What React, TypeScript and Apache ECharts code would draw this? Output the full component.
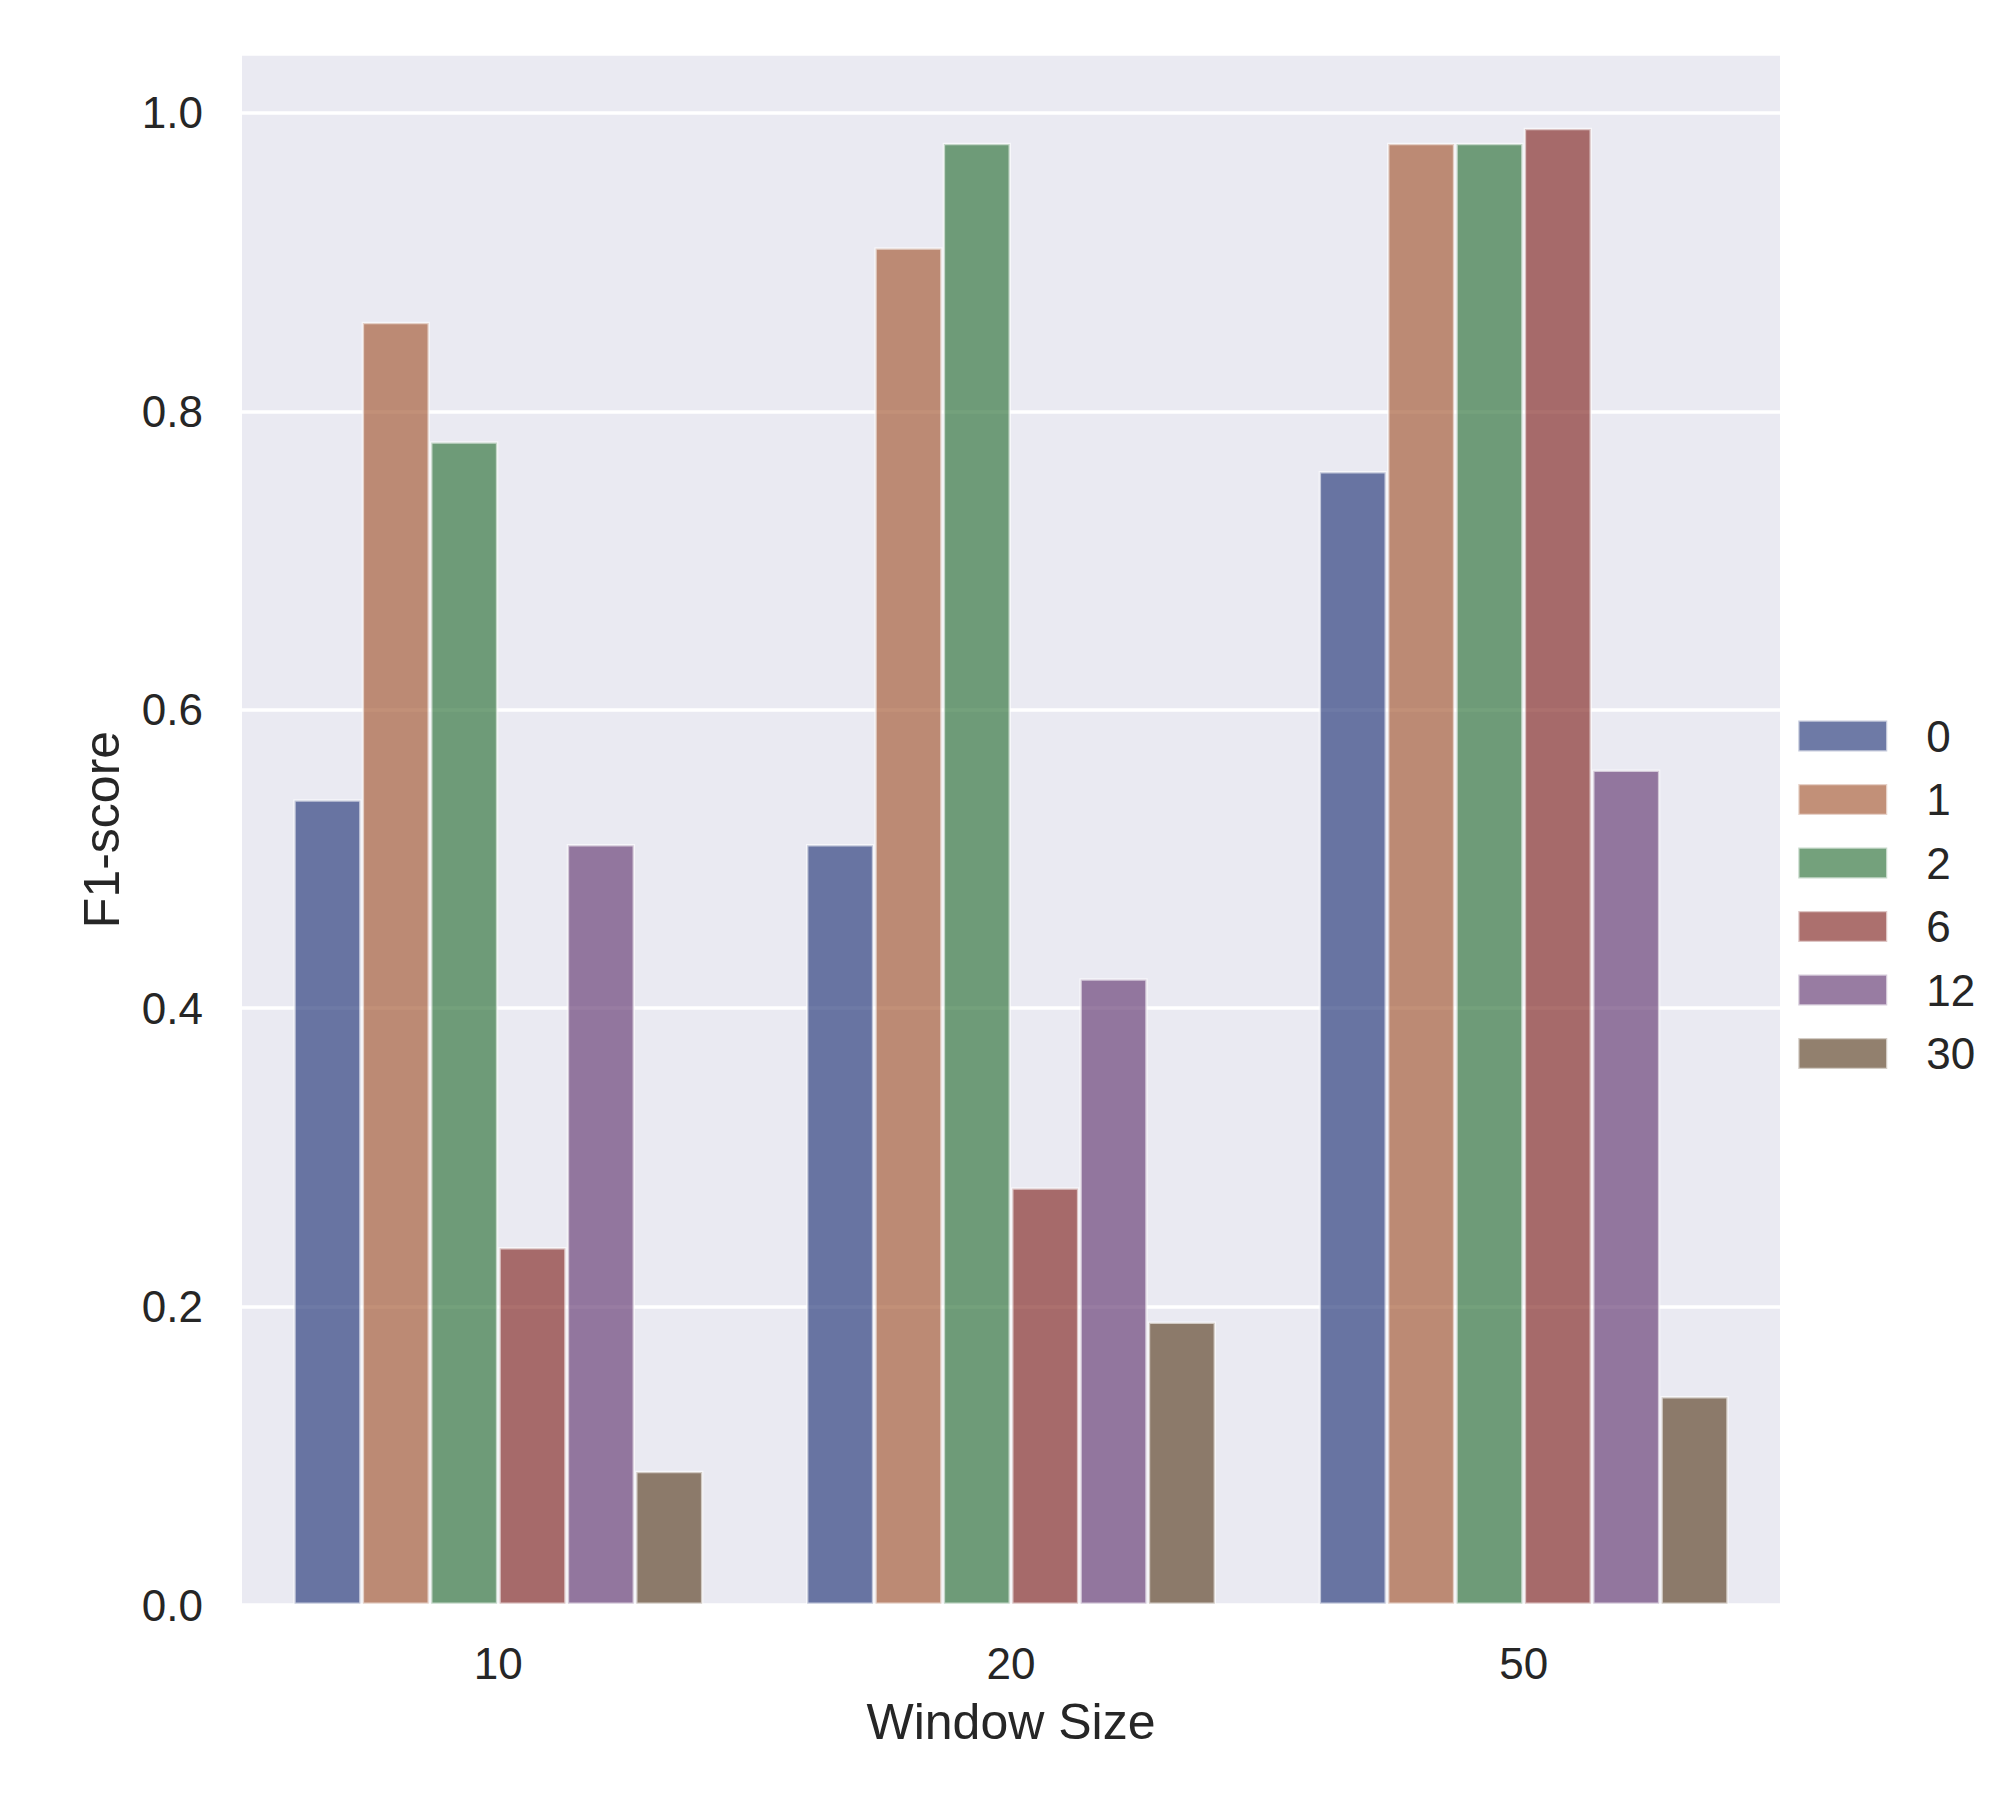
import React, { useEffect, useRef } from "react";
import * as echarts from "echarts";

const categories = ["10", "20", "50"];
const seriesNames = ["0", "1", "2", "6", "12", "30"];
const values0 = [0.54, 0.51, 0.76];
const values1 = [0.86, 0.91, 0.98];
const values2 = [0.78, 0.98, 0.98];
const values6 = [0.24, 0.28, 0.99];
const values12 = [0.51, 0.42, 0.56];
const values30 = [0.09, 0.19, 0.14];
const allValues = [values0, values1, values2, values6, values12, values30];
const colors = [
  "rgba(48,65,128,0.7)",
  "rgba(168,97,62,0.7)",
  "rgba(57,121,68,0.7)",
  "rgba(137,51,48,0.7)",
  "rgba(108,68,122,0.7)",
  "rgba(100,74,49,0.7)",
];
const yTicks = [0, 0.2, 0.4, 0.6, 0.8, 1.0];

export default function App() {
  const ref = useRef<HTMLDivElement>(null);
  useEffect(() => {
    if (!ref.current) return;
    const chart = echarts.init(ref.current, undefined, { renderer: "svg" });
    const font = "Liberation Sans, Arial, sans-serif";
    chart.setOption({
      animation: false,
      backgroundColor: "#ffffff",
      textStyle: { fontFamily: font, color: "#262626" },
      grid: {
        left: 242,
        right: 236,
        top: 54,
        bottom: 195,
        show: true,
        backgroundColor: "#eaeaf2",
        borderWidth: 0,
      },
      legend: {
        orient: "vertical",
        left: 1797,
        top: 714,
        icon: "rect",
        itemWidth: 89,
        itemHeight: 31,
        itemGap: 19.5,
        padding: 0,
        data: seriesNames,
        itemStyle: { borderColor: "rgba(255,255,255,0.6)", borderWidth: 2.5 },
        textStyle: {
          fontFamily: font,
          fontSize: 44,
          color: "#262626",
          lineHeight: 31,
          padding: [0, 0, 0, 34],
        },
      },
      xAxis: {
        type: "category",
        data: categories,
        name: "Window Size",
        nameLocation: "middle",
        nameGap: 92,
        nameTextStyle: { fontFamily: font, fontSize: 50, color: "#262626" },
        axisLine: { show: false },
        axisTick: { show: false },
        axisLabel: { fontFamily: font, fontSize: 44, color: "#262626", margin: 36 },
        splitLine: { show: false },
      },
      yAxis: {
        type: "value",
        min: 0,
        max: 1.0395,
        interval: 0.2,
        name: "F1-score",
        nameLocation: "middle",
        nameGap: 115,
        nameTextStyle: { fontFamily: font, fontSize: 50, color: "#262626" },
        axisLine: { show: false },
        axisTick: { show: false },
        axisLabel: {
          fontFamily: font,
          fontSize: 44,
          color: "#262626",
          margin: 39,
          formatter: (v: number) =>
            yTicks.some((t) => Math.abs(t - v) < 1e-6) ? v.toFixed(1) : "",
        },
        splitLine: { show: true, lineStyle: { color: "#ffffff", width: 3.5 } },
      },
      series: seriesNames.map((name, i) => ({
        name,
        type: "bar",
        data: allValues[i],
        barGap: "0%",
        barCategoryGap: "20%",
        itemStyle: {
          color: colors[i],
          borderColor: "rgba(255,255,255,0.6)",
          borderWidth: 2.5,
        },
      })),
    });
    return () => chart.dispose();
  }, []);
  return (
    <div
      ref={ref}
      style={{ position: "absolute", left: 0, top: 0, width: 2016, height: 1800 }}
    />
  );
}
